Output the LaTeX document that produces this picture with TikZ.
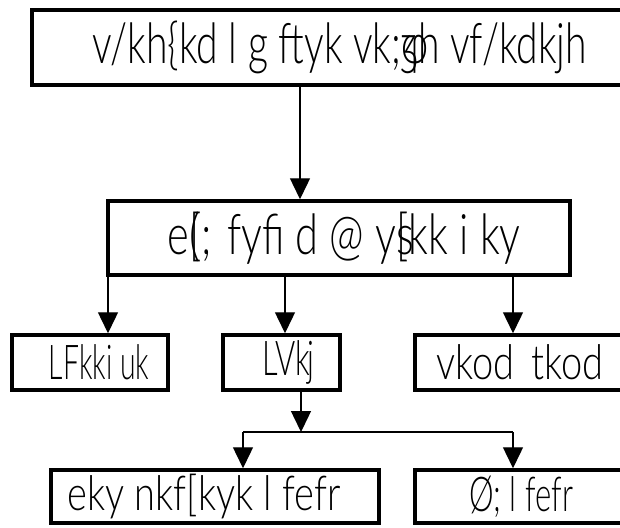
\documentclass[tikz,border=0pt]{standalone}
\usepackage{fontspec}
\IfFontExistsTF{Lato Light}{\setmainfont{Lato Light}[FakeStretch=0.72]}{%
  \IfFontExistsTF{Fira Sans Light}{\setmainfont{Fira Sans Light}[FakeStretch=0.72]}{\setmainfont{Fira Sans}[FakeStretch=0.72]}}
\usetikzlibrary{arrows.meta}
\newcommand{\bigtxt}{\fontsize{56}{60}\selectfont}
\newcommand{\smltxt}{\fontsize{48}{52}\selectfont}
\begin{document}
\begin{tikzpicture}[x=1pt,y=-1pt,
  box/.style={draw=black,line width=3.5pt,rectangle,inner sep=0pt},
  arr/.style={line width=1.4pt,-{Triangle[width=20pt,length=21pt]}},
  ln/.style={line width=1.4pt}]
\useasboundingbox (0,0) rectangle (620,527);
\node[box,minimum width=593pt,minimum height=75pt,font=\bigtxt] (b1) at (328.5,47.5) {\hspace*{22pt}\scalebox{0.97}[1]{v/kh\{kd l g ftyk vk;\rlap{φ}ʒh vf/kdkjh}};
\node[box,minimum width=462pt,minimum height=74pt,font=\bigtxt] (b2) at (339,238) {\hspace*{10pt}\scalebox{1.03}[1]{e\rlap{(}[;\hspace{4pt} fyfi d @ y\rlap{s}[kk i ky}};
\node[box,minimum width=156pt,minimum height=55pt,font=\smltxt] (ra) at (90,362.5) {\hspace*{18pt}\scalebox{0.82}[1]{LFkki uk}};
\node[box,minimum width=117pt,minimum height=55pt,font=\smltxt] (rb) at (281.5,362.5) {\hspace*{14pt}\scalebox{0.89}[1]{LVk\kern-2ptj}};
\node[box,minimum width=210pt,minimum height=55pt,font=\smltxt] (rc) at (520,362.5) {\scalebox{1.1}[1]{vkod\hspace{6pt} tkod}};
\node[box,minimum width=328pt,minimum height=53pt,font=\smltxt] (da) at (215,496.5) {\scalebox{1.1}[1]{eky nkf[kyk l fefr}\hspace*{22pt}};
\node[box,minimum width=210pt,minimum height=53pt,font=\smltxt] (db) at (520,496.5) {\hspace*{2pt}\scalebox{0.9}[1]{Ø; l fefr}};
\coordinate (xa) at (300,0);
\coordinate (xb) at (108,0);
\coordinate (xc) at (285,0);
\coordinate (xd) at (513,0);
\coordinate (xe) at (301,0);
\coordinate (xf) at (243,0);
\coordinate (hj) at (301,432);
\coordinate (hl) at (243,432);
\coordinate (hr) at (513,432);
\draw[arr] (b1.south -| xa) -- (b2.north -| xa);
\draw[arr] (b2.south -| xb) -- (ra.north -| xb);
\draw[arr] (b2.south -| xc) -- (rb.north -| xc);
\draw[arr] (b2.south -| xd) -- (rc.north -| xd);
\draw[arr] (rb.south -| xe) -- (hj);
\draw[ln] (hl) -- (hr);
\draw[arr] (hl) -- (da.north -| xf);
\draw[arr] (hr) -- (db.north -| xd);
\end{tikzpicture}
\end{document}
